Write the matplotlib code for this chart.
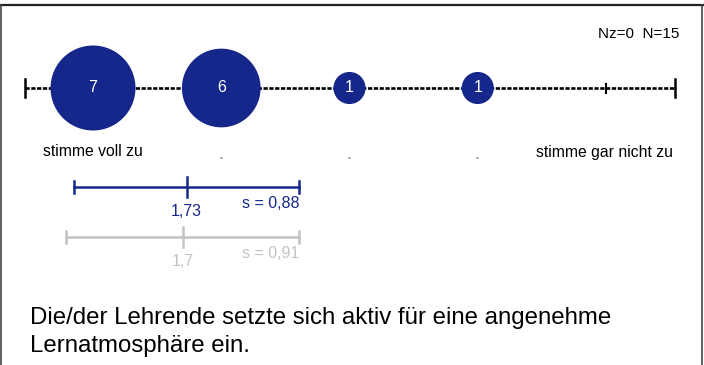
import matplotlib.pyplot as plt

plt.rcParams['font.family'] = ['Liberation Sans', 'DejaVu Sans']

positions = [1, 2, 3, 4, 5]
counts = [7, 6, 1, 1, 0]
left_label = 'stimme voll zu'
right_label = 'stimme gar nicht zu'
n_info = 'Nz=0  N=15'
mean_cur, sd_cur = 1.73, 0.88
mean_cmp, sd_cmp = 1.7, 0.91
question = 'Die/der Lehrende setzte sich aktiv für eine angenehme\nLernatmosphäre ein.'

blue = '#15278b'
grey = '#c3c3c3'

fig = plt.figure(figsize=(7.04, 3.65), dpi=100)
ax = fig.add_axes([0, 0, 1, 1])
step = 128.25
ax.set_xlim(1 - 93 / step, 1 + 611 / step)
ax.set_ylim(365, 0)
ax.axis('off')

# frame
ax.plot([1 - 93 / step, 1 + 611 / step], [5, 5], color='#222222', lw=1.6, clip_on=False)
ax.axvline(1 - 92 / step, ymin=0, ymax=1 - 5 / 365, color='#444444', lw=1.2)
ax.axvline(1 + 609 / step, ymin=0, ymax=1 - 5 / 365, color='#444444', lw=1.2)

# scale
y0 = 88
lo, hi = 0.47, 5.535
ax.plot([lo, hi], [y0, y0], color='black', lw=1.9, ls=(0, (1.6, 0.6)), zorder=1)
ax.plot([lo, lo], [y0 - 9, y0 + 9], color='black', lw=1.8)
ax.plot([hi, hi], [y0 - 9, y0 + 9], color='black', lw=1.8)
for p in positions:
    ax.plot([p, p], [y0 - 4.5, y0 + 4.5], color='black', lw=1.5, zorder=1)

for p, c in zip(positions, counts):
    if c > 0:
        ax.scatter(p, y0, s=c * 535, color=blue, edgecolors='none', zorder=2)
        ax.text(p, y0, str(c), color='white', fontsize=11.5, ha='center', va='center', zorder=3)

ax.text(1, 152, left_label, fontsize=11.3, ha='center', va='center')
ax.text(5.52, 152, right_label, fontsize=11.3, ha='right', va='center')
for p in positions[1:4]:
    ax.scatter(p, 158, s=4, marker='s', color='#b5b5b5', edgecolors='none')
ax.text(5.57, 34, n_info, fontsize=11, ha='right', va='center')

# mean / sd bars
for m, s, col, yb in [(mean_cur, sd_cur, blue, 187), (mean_cmp, sd_cmp, grey, 237)]:
    ax.plot([m - s, m + s], [yb, yb], color=col, lw=1.8)
    for xe in (m - s, m + s):
        ax.plot([xe, xe], [yb - 6, yb + 6], color=col, lw=1.8)
    ax.plot([m, m], [yb - 10, yb + 10], color=col, lw=1.8)
    ax.text(m, yb + 25, f'{m:g}'.replace('.', ','), color=col, fontsize=11.5, ha='center', va='center')
    ax.text(m + s, yb + 16, f's = {s:.2f}'.replace('.', ','), color=col, fontsize=11.5, ha='right', va='center')

ax.text(1 - 63 / step, 332, question, fontsize=17.3, ha='left', va='center', linespacing=1.3)

fig.savefig('out.png', dpi=100)
